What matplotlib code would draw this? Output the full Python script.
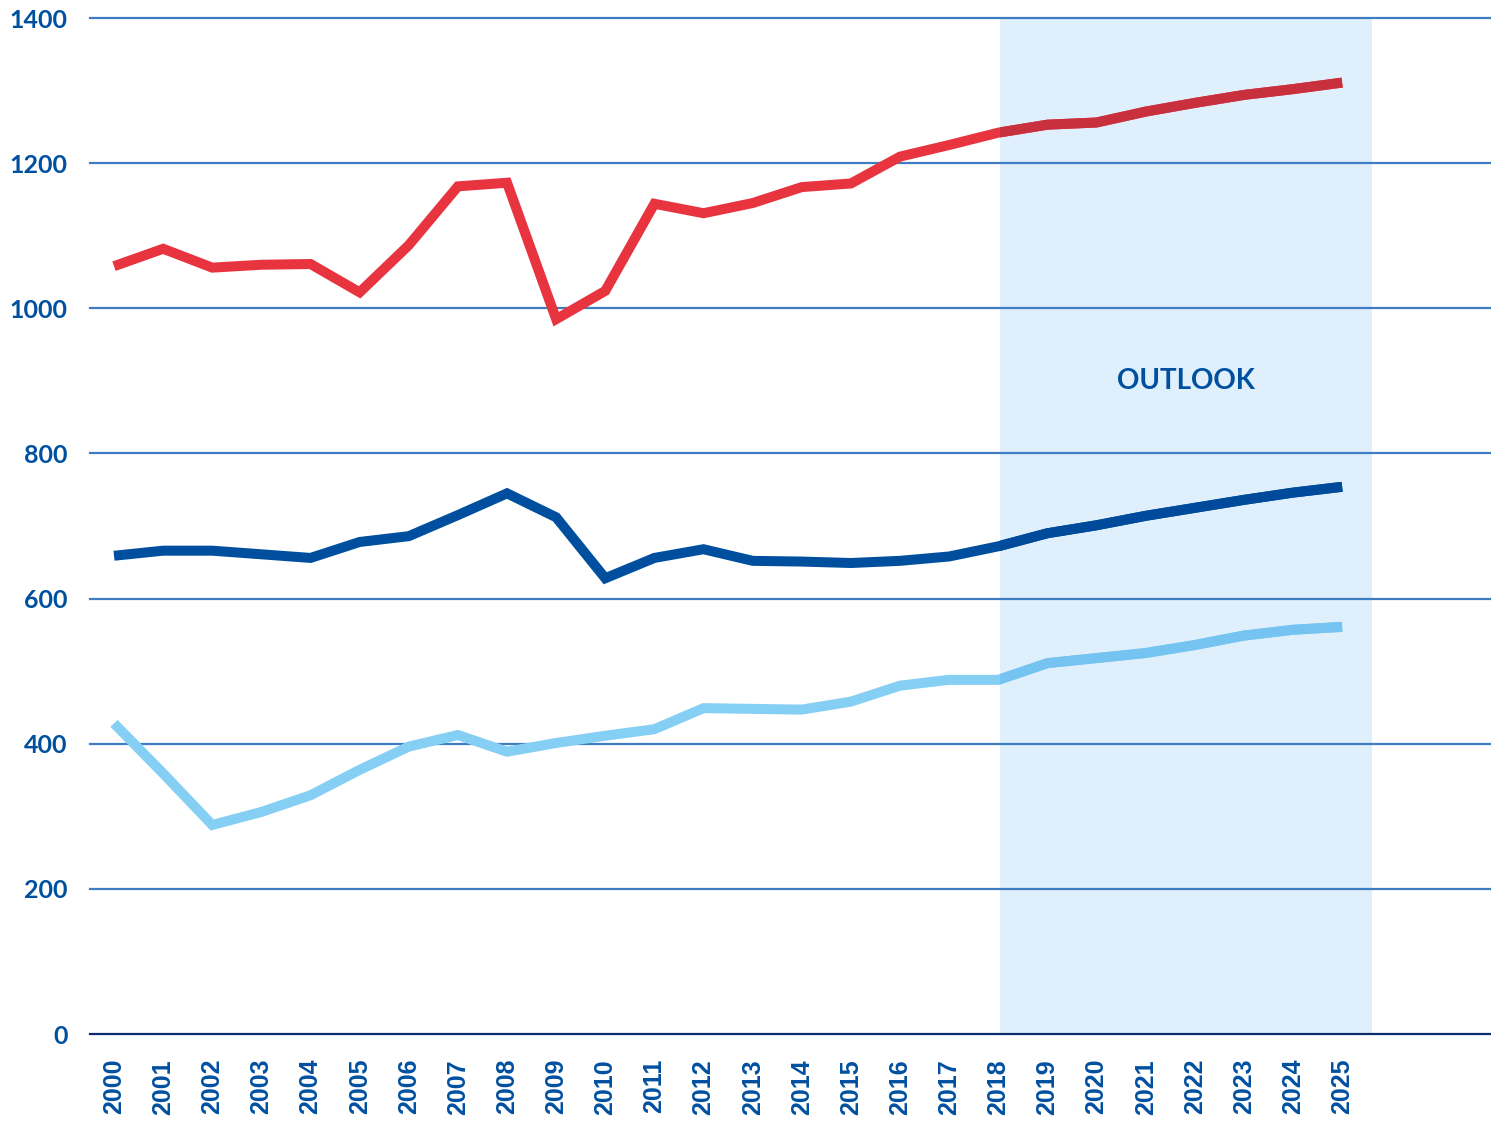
import matplotlib
matplotlib.use("Agg")
import matplotlib.pyplot as plt
import numpy as np

years = list(range(2000, 2026))
red_series = [1058, 1082, 1056, 1060, 1061, 1022, 1087, 1168, 1173, 985, 1024, 1144, 1131,
              1145, 1167, 1172, 1209, 1225, 1242, 1253, 1256, 1271, 1283, 1294, 1302, 1311]
dark_series = [659, 666, 666, 661, 656, 678, 686, 715, 745, 712, 628, 656, 668,
               652, 651, 649, 652, 658, 672, 690, 701, 714, 725, 736, 746, 754]
light_series = [428, 359, 288, 306, 329, 364, 396, 412, 389, 401, 411, 420, 449,
                448, 447, 458, 480, 488, 488, 511, 518, 525, 536, 549, 557, 561]
yticks = [0, 200, 400, 600, 800, 1000, 1200, 1400]
outlook_start, outlook_end = 2018.04, 2025.6
outlook_label = "OUTLOOK"

fig = plt.figure(figsize=(14.91, 11.21), dpi=100)
ax = fig.add_axes([90/1491, (1121-1034)/1121, 1 - 90/1491, (1034-18)/1121])

ax.set_xlim(1999.511, 2028.03)
ax.set_ylim(0, 1400)

# gridlines
for v in yticks:
    col = "#0b2d6e" if v == 0 else "#3f7dc2"
    ax.axhline(v, color=col, lw=1.6, zorder=1, clip_on=False)

span = ax.axvspan(outlook_start, outlook_end, color="#dff0fc", lw=0, zorder=0.5)

series = [(red_series, "#e8343f", "#c9303e"),
          (dark_series, "#004f9f", "#004a9c"),
          (light_series, "#85cff4", "#74c3f1")]
for vals, col, dcol in series:
    ax.plot(years, vals, color=col, lw=7.2, solid_joinstyle="miter",
            solid_capstyle="butt", zorder=3)
    ln, = ax.plot(years, vals, color=dcol, lw=7.2, solid_joinstyle="miter",
                  solid_capstyle="butt", zorder=3.1)
    ln.set_clip_path(span)

ax.text(2021.82, 900, outlook_label, ha="center", va="center", fontsize=20,
        fontweight="bold", family="Lato", color="#0050a0", zorder=4)

for s in ax.spines.values():
    s.set_visible(False)

ax.set_yticks(yticks)
ax.set_yticklabels([str(v) for v in yticks], fontsize=18, fontweight="bold",
                   family="Lato", color="#0050a0")
ax.tick_params(axis="y", length=0, pad=16)

ax.set_xticks(years)
ax.set_xticklabels([str(y) for y in years], rotation=90, fontsize=18,
                   fontweight="bold", family="Liberation Sans", color="#0050a0")
ax.tick_params(axis="x", length=0, pad=18)

fig.savefig("out.png", dpi=100)
